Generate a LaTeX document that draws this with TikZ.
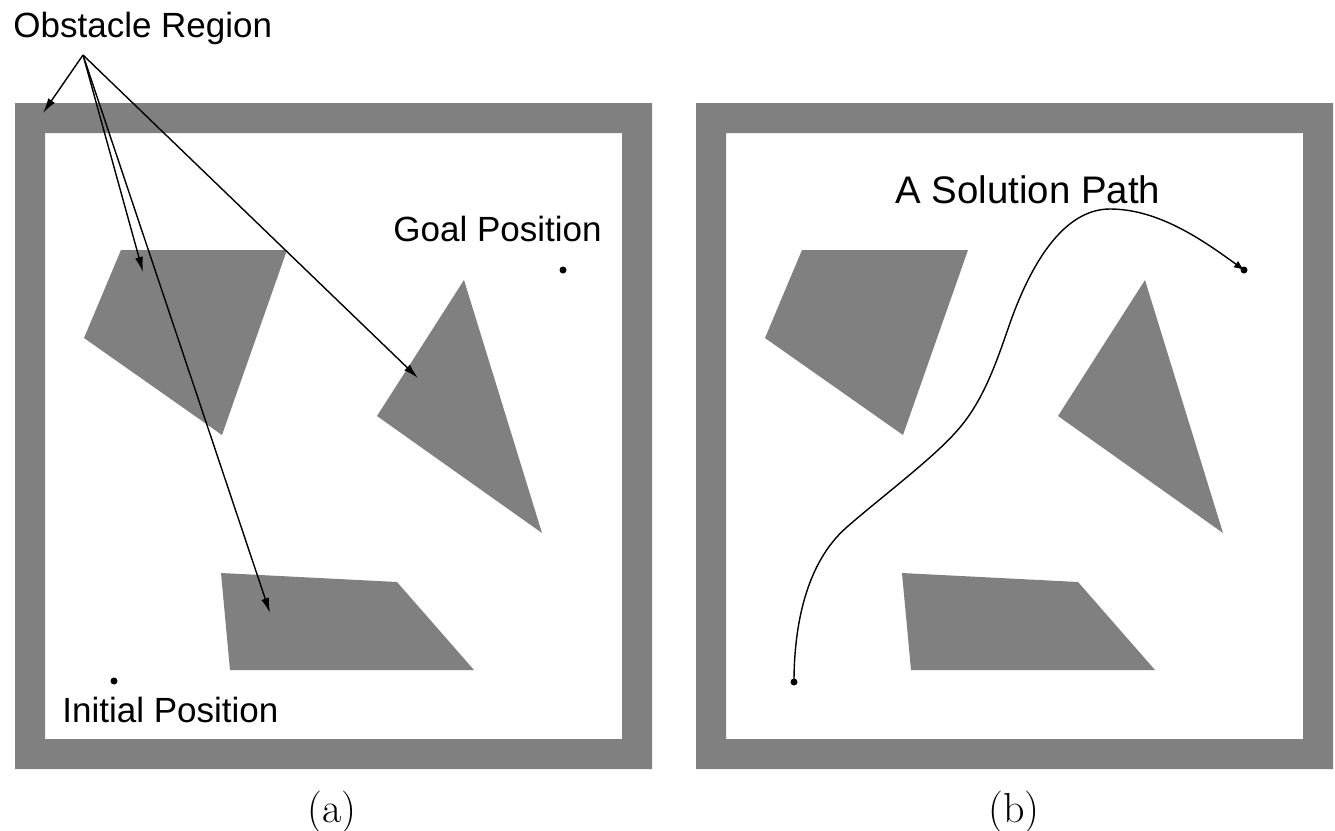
\documentclass[tikz,border=0pt]{standalone}
\usepackage{fontspec}
\setmainfont{Latin Modern Roman}
\newfontfamily\helv{Liberation Sans}
\usetikzlibrary{arrows.meta}
\definecolor{obst}{HTML}{808080}
\begin{document}
\begin{tikzpicture}[x=0.5pt,y=-0.5pt,
  obstacle/.style={fill=obst,draw=none},
  lbl/.style={font=\helv\fontsize{17.5pt}{20pt}\selectfont,inner sep=0pt,anchor=base west},
  biglbl/.style={lbl,font=\helv\fontsize{19.2pt}{22pt}\selectfont},
  captext/.style={font=\fontsize{21pt}{24pt}\selectfont,inner sep=0pt,anchor=base},
  pointer/.style={line width=0.7pt,-{Latex[length=7.5pt,width=4pt]}},
  dot/.style={circle,fill=black,inner sep=0pt,minimum size=3.5pt}]
\useasboundingbox (0,0) rectangle (1335,831);
% frames
\fill[obst,even odd rule] (15,103) rectangle (652,769) (45,133) rectangle (622,739);
\fill[obst,even odd rule] (696,103) rectangle (1333,769) (726,133) rectangle (1303,739);
% obstacles left
\fill[obstacle] (121,250) -- (287,250) -- (222,435) -- (84,338) -- cycle;
\fill[obstacle] (464,280) -- (542,533) -- (377,416) -- cycle;
\fill[obstacle] (221,573) -- (397,582) -- (474,670) -- (230,670) -- cycle;
% obstacles right
\fill[obstacle] (802,250) -- (968,250) -- (903,435) -- (765,338) -- cycle;
\fill[obstacle] (1145,280) -- (1223,533) -- (1058,416) -- cycle;
\fill[obstacle] (902,573) -- (1078,582) -- (1155,670) -- (911,670) -- cycle;
% labels
\node[lbl] (obs) at (13,37) {Obstacle Region};
\node[lbl] (goal) at (393,241) {Goal Position};
\node[lbl] (init) at (62,722) {Initial Position};
\node[biglbl] (sol) at (895,203) {A Solution Path};
\node[captext] (capa) at (332,822) {(a)};
\node[captext] (capb) at (1014,822) {(b)};
% pointers
\coordinate (o) at (83,55);
\coordinate (t1) at (43,113);
\coordinate (t2) at (143,272);
\coordinate (t3) at (270,613);
\coordinate (t4) at (418,378);
\draw[pointer] (o) -- (t1);
\draw[pointer] (o) -- (t2);
\draw[pointer] (o) -- (t3);
\draw[pointer] (o) -- (t4);
% points
\node[dot] (g) at (563,270) {};
\node[dot] (i) at (114,681) {};
\node[dot] (s) at (794,682) {};
\node[dot] (e) at (1244,270) {};
% path
\draw[line width=0.7pt,-{Latex[length=5pt,width=4pt]}] (s.center)
  .. controls (794,627) and (805.5,563) .. (847,527)
  .. controls (874,503) and (931,460) .. (955,433)
  .. controls (983,403) and (996.5,362) .. (1010,323)
  .. controls (1027,275) and (1059,209) .. (1110,209)
  .. controls (1159,209) and (1204,241) .. (e.center);
\end{tikzpicture}
\end{document}
